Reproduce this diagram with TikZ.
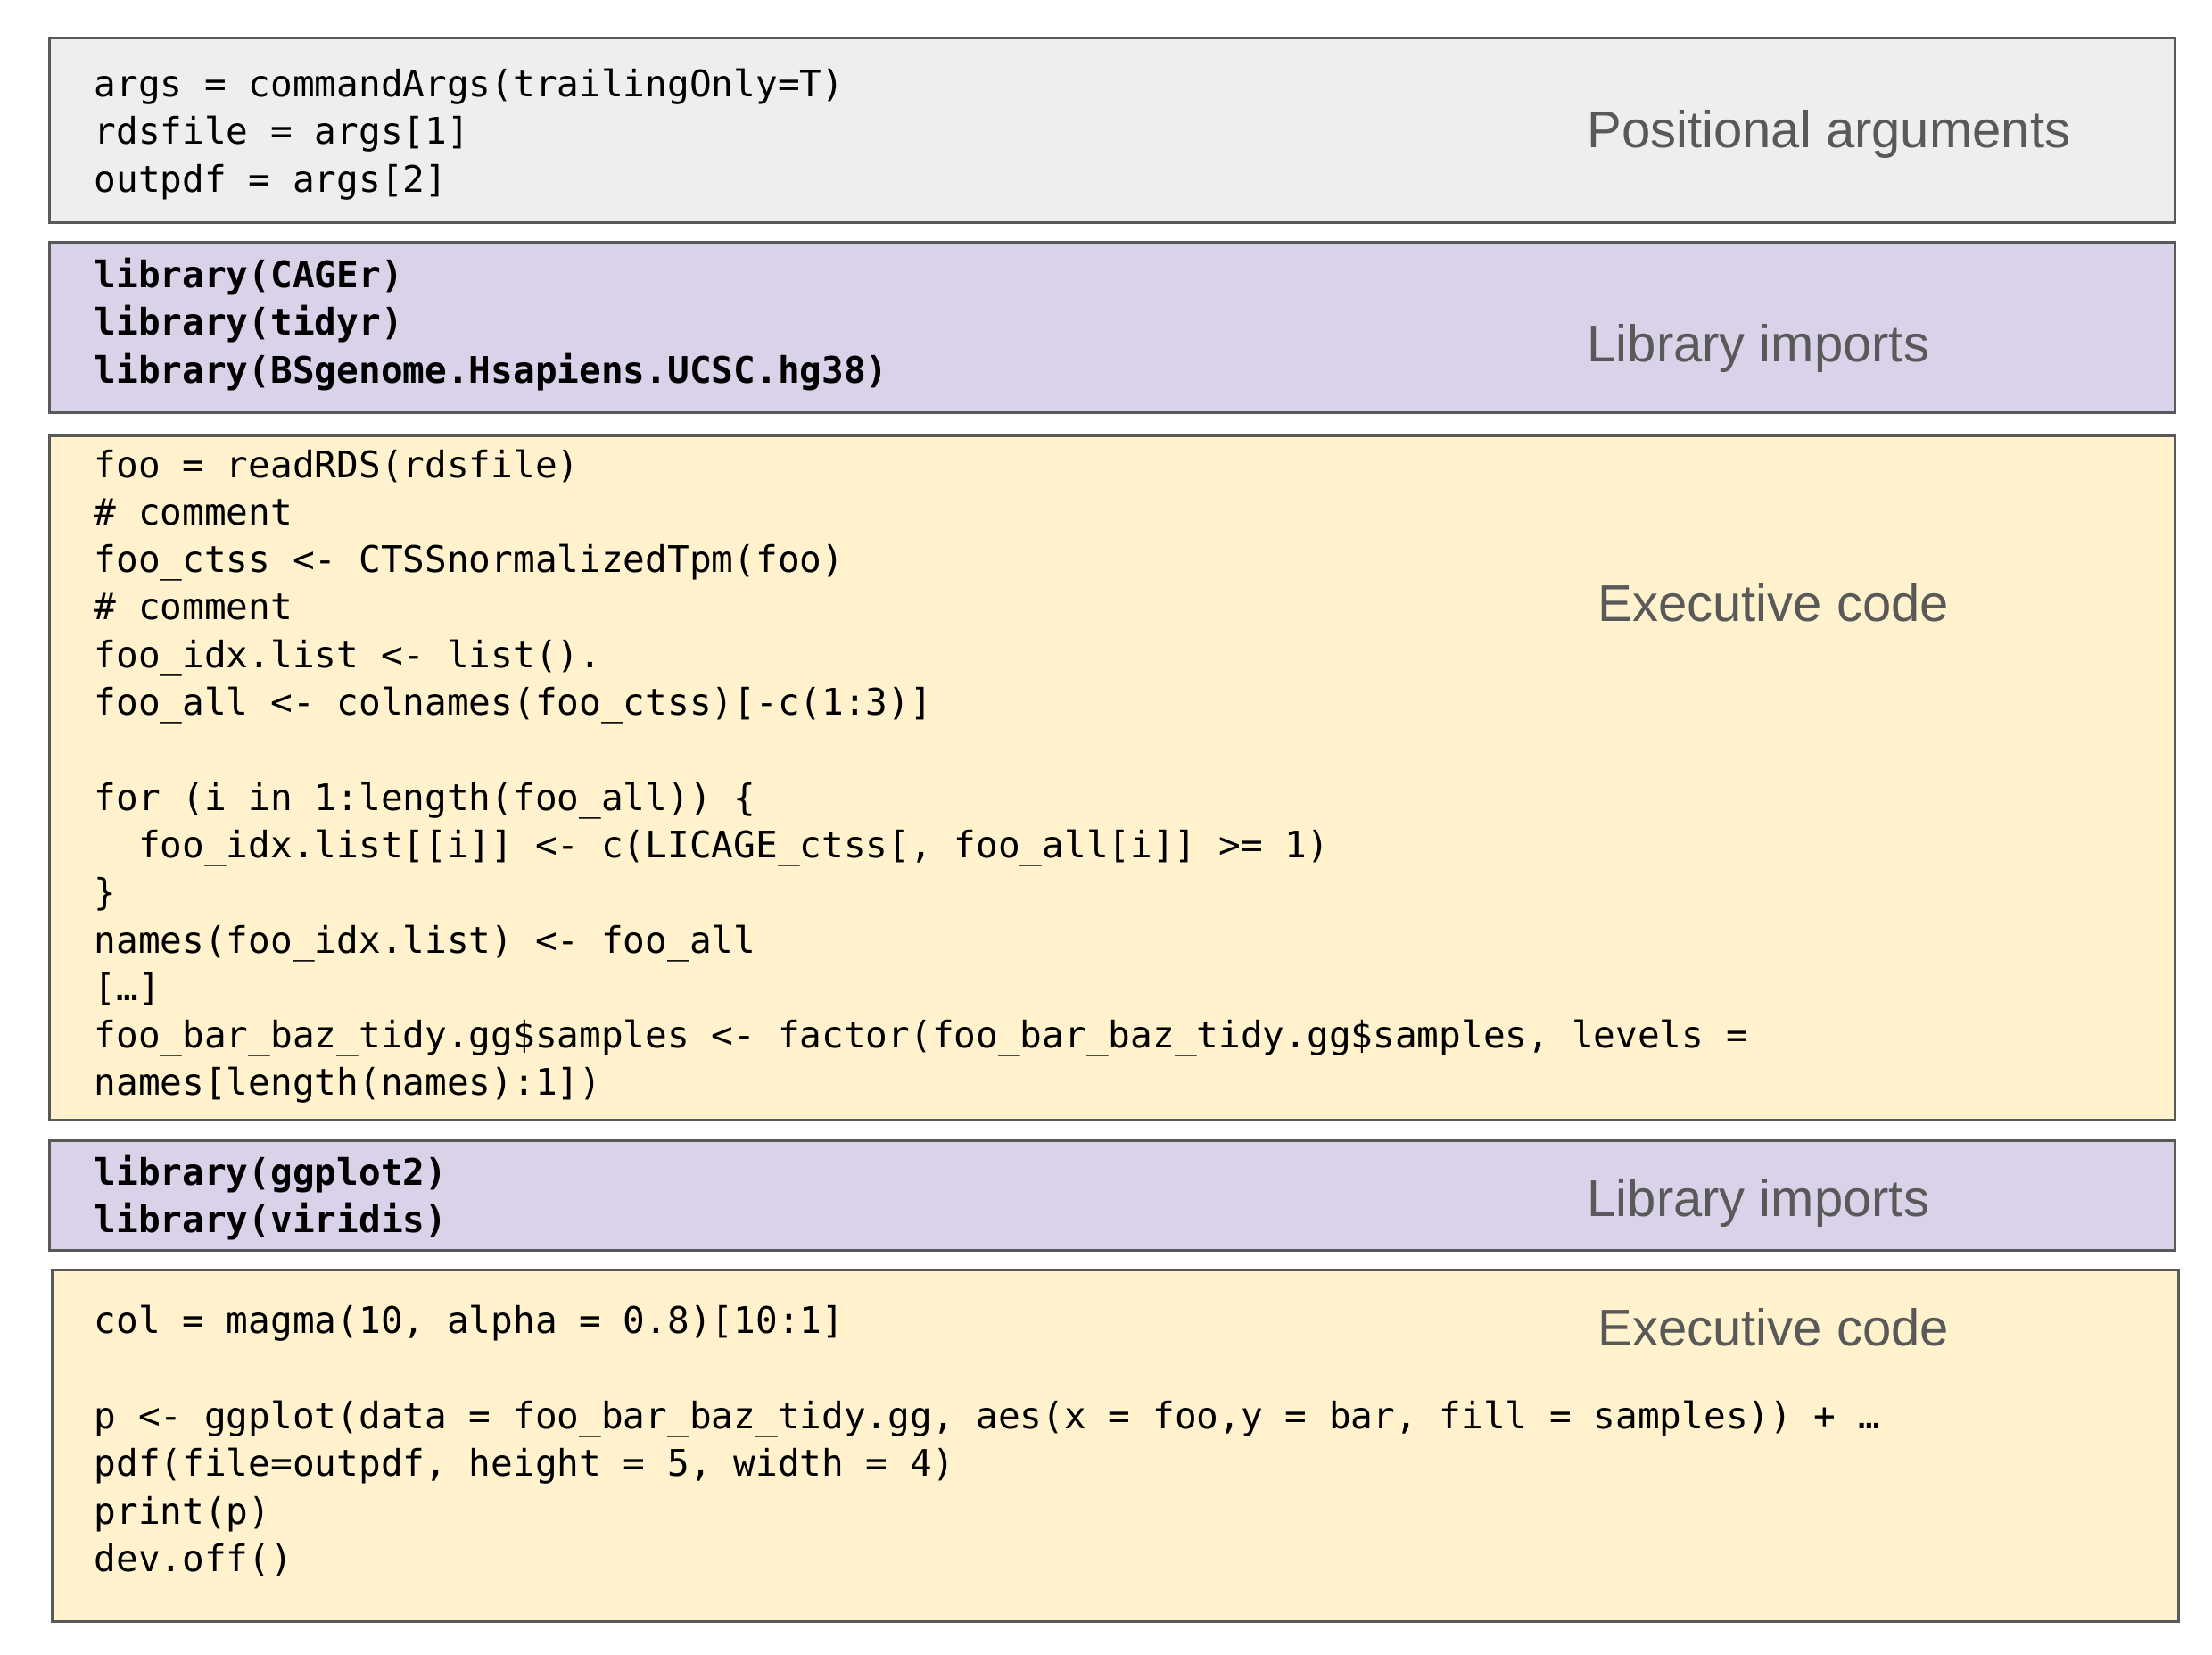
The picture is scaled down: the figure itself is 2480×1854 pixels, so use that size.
\documentclass[tikz,border=0pt]{standalone}
\usepackage{fontspec}
\newfontfamily\codefont{DejaVu Sans Mono}
\newfontfamily\labelfont{Liberation Sans}
\definecolor{bordergray}{HTML}{595959}
\definecolor{labelgray}{HTML}{595959}
\definecolor{graybox}{HTML}{EEEEEE}
\definecolor{purplebox}{HTML}{D9D2E9}
\definecolor{yellowbox}{HTML}{FFF2CC}
\begin{document}
\begin{tikzpicture}[x=0.3pt,y=-0.3pt,
  box/.style={draw=bordergray, line width=0.9pt, rectangle, inner sep=0pt, outer sep=0pt},
  code/.style={anchor=base west, inner sep=0pt, text=black,
    font=\codefont\fontsize{12.32}{14}\selectfont\frenchspacing},
  codeb/.style={anchor=base west, inner sep=0pt, text=black,
    font=\codefont\fontsize{12.32}{14}\selectfont\bfseries\frenchspacing},
  lbl/.style={anchor=base west, inner sep=0pt, text=labelgray,
    font=\labelfont\fontsize{17.4}{20}\selectfont}]
\useasboundingbox (0,0) rectangle (2480,1854);

% boxes
\node[box, fill=graybox, minimum width=714.9pt, minimum height=62.1pt] (b1) at (1246.5,145.5) {};
\node[box, fill=purplebox, minimum width=714.9pt, minimum height=57.3pt] (b2) at (1246.5,366.5) {};
\node[box, fill=yellowbox, minimum width=714.9pt, minimum height=230.1pt] (b3) at (1246.5,871.5) {};
\node[box, fill=purplebox, minimum width=714.9pt, minimum height=36.9pt] (b4) at (1246.5,1339.5) {};
\node[box, fill=yellowbox, minimum width=715.2pt, minimum height=118.2pt] (b5) at (1250,1620) {};

% labels
\node[lbl] (lab1) at (1779,165) {Positional arguments};
\node[lbl] (lab2) at (1779,405) {Library imports};
\node[lbl] (lab3) at (1791,696) {Executive code};
\node[lbl] (lab4) at (1779,1363) {Library imports};
\node[lbl] (lab5) at (1791,1508) {Executive code};

% box 1
\node[code] (c1a) at (105,108) {args = commandArgs(trailingOnly=T)};
\node[code] (c1b) at (105,161.5) {rdsfile = args[1]};
\node[code] (c1c) at (105,215) {outpdf = args[2]};

% box 2
\node[codeb] (c2a) at (105,322) {library(CAGEr)};
\node[codeb] (c2b) at (105,375.5) {library(tidyr)};
\node[codeb] (c2c) at (105,429) {library(BSgenome.Hsapiens.UCSC.hg38)};

% box 3
\node[code] (c3a) at (105,535) {foo = readRDS(rdsfile)};
\node[code] (c3b) at (105,588.3) {\# comment};
\node[code] (c3c) at (105,641.6) {foo\_ctss <- CTSSnormalizedTpm(foo)};
\node[code] (c3d) at (105,694.9) {\# comment};
\node[code] (c3e) at (105,748.2) {foo\_idx.list <- list().};
\node[code] (c3f) at (105,801.5) {foo\_all <- colnames(foo\_ctss)[-c(1:3)]};
\node[code] (c3g) at (105,908.1) {for (i in 1:length(foo\_all)) \{};
\node[code] (c3h) at (154.4,961.4) {foo\_idx.list[[i]] <- c(LICAGE\_ctss[, foo\_all[i]] >= 1)};
\node[code] (c3i) at (105,1014.7) {\}};
\node[code] (c3j) at (105,1068) {names(foo\_idx.list) <- foo\_all};
\node[code] (c3k) at (105,1121.3) {[…]};
\node[code] (c3l) at (105,1174.6) {foo\_bar\_baz\_tidy.gg\$samples <- factor(foo\_bar\_baz\_tidy.gg\$samples, levels =};
\node[code] (c3m) at (105,1227.9) {names[length(names):1])};

% box 4
\node[codeb] (c4a) at (105,1328) {library(ggplot2)};
\node[codeb] (c4b) at (105,1381.5) {library(viridis)};

% box 5
\node[code] (c5a) at (105,1494) {col = magma(10, alpha = 0.8)[10:1]};
\node[code] (c5b) at (105,1601) {p <- ggplot(data = foo\_bar\_baz\_tidy.gg, aes(x = foo,y = bar, fill = samples)) + …};
\node[code] (c5c) at (105,1654.5) {pdf(file=outpdf, height = 5, width = 4)};
\node[code] (c5d) at (105,1708) {print(p)};
\node[code] (c5e) at (105,1761.5) {dev.off()};
\end{tikzpicture}
\end{document}
